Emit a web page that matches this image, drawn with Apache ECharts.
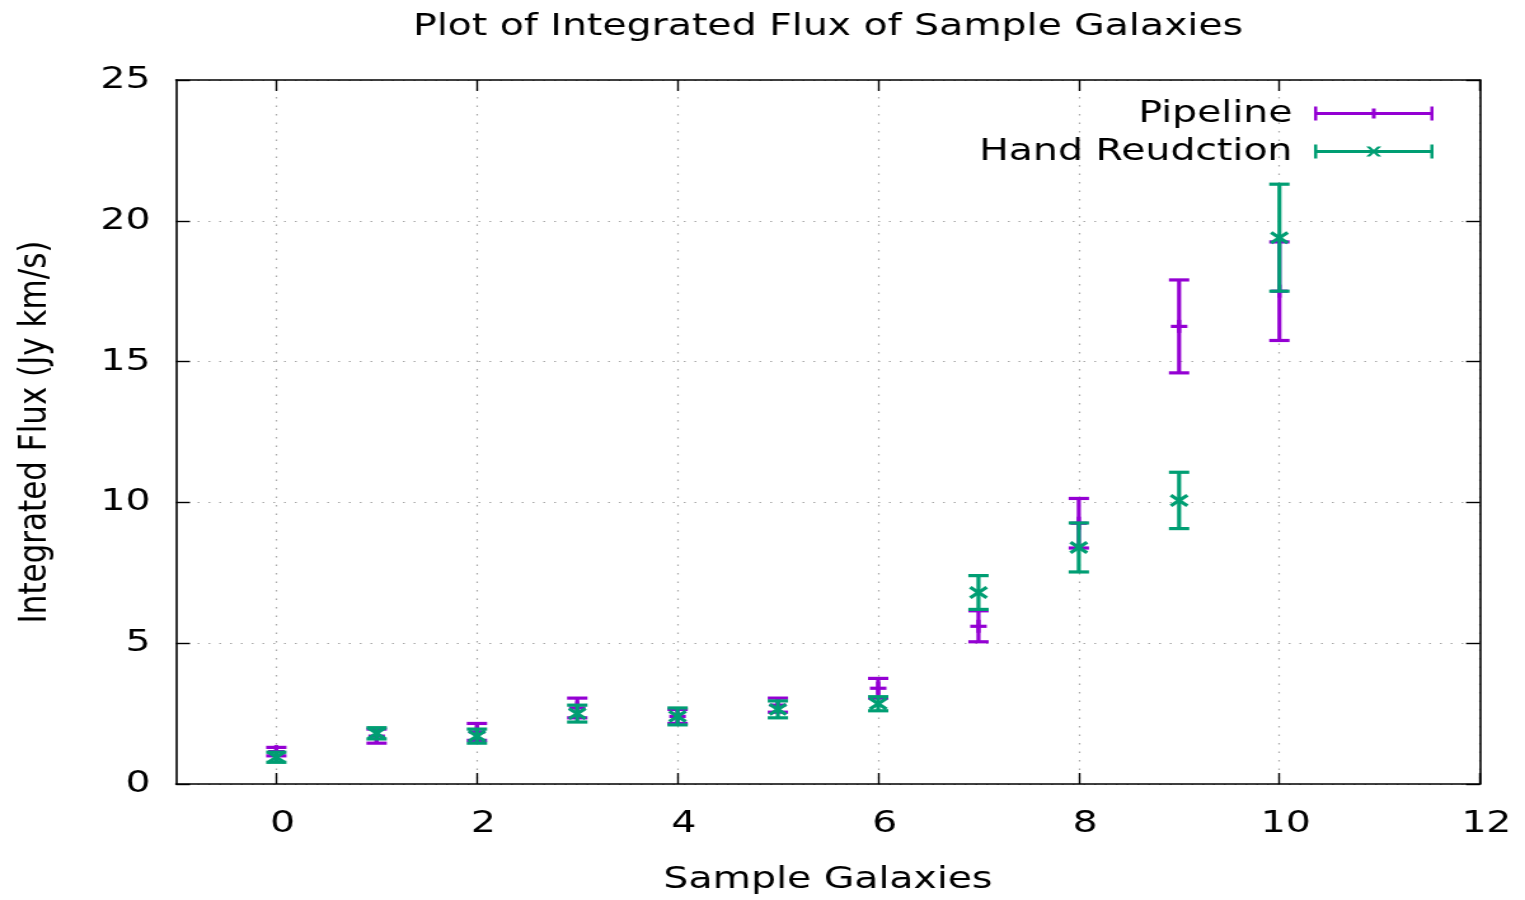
<!DOCTYPE html>
<html>
<head>
<meta charset="utf-8">
<title>Plot of Integrated Flux of Sample Galaxies</title>
<script src="https://cdn.jsdelivr.net/npm/echarts@6/dist/echarts.min.js"></script>
<style>
  html, body { margin: 0; padding: 0; background: #ffffff; overflow: hidden; }
  /* The plot is laid out on a 1200px-wide canvas and widened to the 1525px window. */
  #chart { width: 1200px; height: 900px; transform: scaleX(1.270833); transform-origin: 0 0; }
</style>
</head>
<body>
<div id="chart"></div>
<script>
// Sample galaxy index
const galaxies = [0, 1, 2, 3, 4, 5, 6, 7, 8, 9, 10];

// Pipeline integrated flux and its uncertainty (Jy km/s)
const pipelineFlux = [1.15, 1.7, 1.85, 2.7, 2.4, 2.8, 3.4, 5.6, 9.26, 16.25, 17.5];
const pipelineErr  = [0.15, 0.25, 0.3, 0.35, 0.25, 0.25, 0.35, 0.55, 0.88, 1.65, 1.75];

// Hand-reduced integrated flux and its uncertainty (Jy km/s)
const handFlux = [0.95, 1.8, 1.7, 2.5, 2.4, 2.65, 2.85, 6.8, 8.4, 10.07, 19.4];
const handErr  = [0.18, 0.2, 0.25, 0.3, 0.3, 0.3, 0.25, 0.6, 0.87, 1.0, 1.9];

// Tick labels
const xTicks = [0, 2, 4, 6, 8, 10, 12];

const PURPLE = '#9400d3';
const GREEN = '#009e73';
const FONT = 'DejaVu Sans';
const CAP = 8;      // half width of an error-bar cap
const MARK = 6.5;   // half size of a point marker

function rows(flux, err) {
  return galaxies.map((g, i) => [g, flux[i], err[i]]);
}

// Error bar with caps plus a '+' or 'x' point marker
function errorBar(marker) {
  return function (params, api) {
    const x = api.value(0), y = api.value(1), e = api.value(2);
    const hi = api.coord([x, y + e]);
    const lo = api.coord([x, y - e]);
    const c = api.coord([x, y]);
    const style = { stroke: api.visual('color'), lineWidth: 3.2, fill: null, lineCap: 'butt' };
    const seg = (x1, y1, x2, y2) => ({ type: 'line', shape: { x1, y1, x2, y2 }, style });
    const parts = [
      seg(hi[0], hi[1], lo[0], lo[1]),
      seg(hi[0] - CAP, hi[1], hi[0] + CAP, hi[1]),
      seg(lo[0] - CAP, lo[1], lo[0] + CAP, lo[1])
    ];
    if (marker === 'plus') {
      parts.push(seg(c[0] - MARK, c[1], c[0] + MARK, c[1]));
      parts.push(seg(c[0], c[1] - MARK, c[0], c[1] + MARK));
    } else {
      parts.push(seg(c[0] - MARK, c[1] - MARK * 0.8, c[0] + MARK, c[1] + MARK * 0.8));
      parts.push(seg(c[0] - MARK, c[1] + MARK * 0.8, c[0] + MARK, c[1] - MARK * 0.8));
    }
    return { type: 'group', children: parts };
  };
}

// Legend keys: a horizontal error bar with the series' marker in the middle
const keyBar = 'M0,5.5 L94,5.5 L94,8.5 L0,8.5 Z M0,0 L2.5,0 L2.5,14 L0,14 Z M91.5,0 L94,0 L94,14 L91.5,14 Z';
const plusKey = 'path://' + keyBar + ' M45.5,2 L48.5,2 L48.5,12 L45.5,12 Z M41,5.5 L53,5.5 L53,8.5 L41,8.5 Z';
const crossKey = 'path://' + keyBar + ' M41,2 L44,2 L53,12 L50,12 Z M50,2 L53,2 L44,12 L41,12 Z';

const axisLine = { show: true, onZero: false, lineStyle: { color: '#000', width: 1.6 } };
const tick = { show: true, inside: true, length: 11, lineStyle: { color: '#000', width: 1.4 } };
const grid = { show: true, lineStyle: { color: '#a8a8a8', width: 1.2, type: [1.5, 7] } };
const labelFont = { color: '#000', fontFamily: FONT, fontSize: 31 };

const chart = echarts.init(document.getElementById('chart'), null, { renderer: 'canvas' });

chart.setOption({
  backgroundColor: '#ffffff',
  animation: false,
  title: {
    text: 'Plot of Integrated Flux of Sample Galaxies',
    left: 325,
    top: 11,
    padding: 0,
    textStyle: { color: '#000', fontFamily: FONT, fontSize: 31, fontWeight: 'normal' }
  },
  legend: {
    orient: 'vertical',
    right: 72,
    top: 98,
    padding: 0,
    align: 'right',
    itemWidth: 94,
    itemHeight: 14,
    itemGap: 7,
    selectedMode: false,
    textStyle: { color: '#000', fontFamily: FONT, fontSize: 31, padding: [0, 12, 0, 0] },
    data: [
      { name: 'Pipeline', icon: plusKey },
      { name: 'Hand Reudction', icon: crossKey }
    ]
  },
  grid: { left: 138.5, right: 35.4, top: 80, bottom: 105, containLabel: false },
  xAxis: [
    {
      type: 'value', position: 'bottom', min: -1, max: 12,
      name: 'Sample Galaxies', nameLocation: 'middle', nameGap: 80,
      nameTextStyle: labelFont,
      axisLine: axisLine,
      axisTick: Object.assign({ customValues: xTicks }, tick),
      axisLabel: Object.assign({ customValues: xTicks, margin: 24, padding: [0, 0, 0, 10] }, labelFont),
      splitLine: grid
    },
    {
      type: 'value', position: 'top', min: -1, max: 12,
      axisLine: axisLine,
      axisTick: Object.assign({ customValues: xTicks }, tick),
      axisLabel: { show: false },
      splitLine: { show: false }
    }
  ],
  yAxis: [
    {
      type: 'value', position: 'left', min: 0, max: 25, interval: 5,
      name: 'Integrated Flux (Jy km/s)', nameLocation: 'middle', nameGap: 95,
      nameTextStyle: labelFont,
      axisLine: axisLine,
      axisTick: tick,
      axisLabel: Object.assign({ margin: 20 }, labelFont),
      splitLine: grid
    },
    {
      type: 'value', position: 'right', min: 0, max: 25, interval: 5,
      axisLine: axisLine,
      axisTick: tick,
      axisLabel: { show: false },
      splitLine: { show: false }
    }
  ],
  series: [
    {
      name: 'Pipeline',
      type: 'custom',
      xAxisIndex: 0, yAxisIndex: 0,
      itemStyle: { color: PURPLE },
      renderItem: errorBar('plus'),
      encode: { x: 0, y: 1 },
      data: rows(pipelineFlux, pipelineErr),
      z: 3
    },
    {
      name: 'Hand Reudction',
      type: 'custom',
      xAxisIndex: 0, yAxisIndex: 0,
      itemStyle: { color: GREEN },
      renderItem: errorBar('cross'),
      encode: { x: 0, y: 1 },
      data: rows(handFlux, handErr),
      z: 4
    }
  ]
});
</script>
</body>
</html>
